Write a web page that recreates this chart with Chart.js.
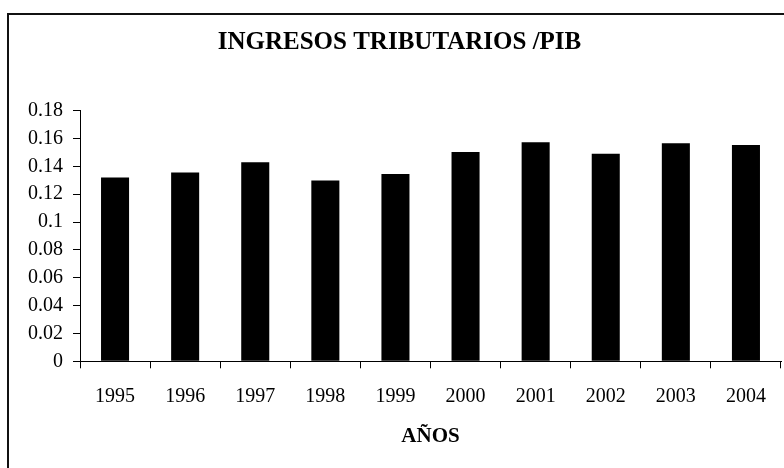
<!DOCTYPE html>
<html>
<head>
<meta charset="utf-8">
<script src="https://cdn.jsdelivr.net/npm/chart.js@4/dist/chart.umd.min.js"></script>
<style>
  html, body { margin: 0; padding: 0; background: #fff; }
  #wrap { width: 784px; height: 468px; position: relative; }
</style>
</head>
<body>
<div id="wrap"><canvas id="c" width="784" height="468"></canvas></div>
<script>
const categories = ['1995','1996','1997','1998','1999','2000','2001','2002','2003','2004'];
const ratioValues = [0.132, 0.1357, 0.143, 0.1298, 0.1346, 0.1503, 0.1574, 0.1491, 0.1567, 0.1553];
const yTicks = [0, 0.02, 0.04, 0.06, 0.08, 0.1, 0.12, 0.14, 0.16, 0.18];
const chartTitle = 'INGRESOS TRIBUTARIOS /PIB';
const xTitle = 'AÑOS';

Chart.defaults.font.family = "'Liberation Serif', 'Times New Roman', serif";
Chart.defaults.color = '#000';

const framePlugin = {
  id: 'frame',
  beforeDraw(chart) {
    const ctx = chart.ctx;
    ctx.save();
    ctx.fillStyle = '#fff';
    ctx.fillRect(0, 0, chart.width, chart.height);
    ctx.strokeStyle = '#111';
    ctx.lineWidth = 2;
    ctx.strokeRect(8, 14, 900, 600);
    ctx.restore();
  }
};

new Chart(document.getElementById('c'), {
  type: 'bar',
  data: {
    labels: categories,
    datasets: [{
      data: ratioValues,
      backgroundColor: '#000',
      borderWidth: 0,
      barPercentage: 0.4,
      categoryPercentage: 1.0
    }]
  },
  options: {
    responsive: false,
    animation: false,
    layout: { padding: { left: 18, right: 3, top: 0, bottom: 14.5 } },
    plugins: {
      legend: { display: false },
      tooltip: { enabled: false },
      title: {
        display: true,
        text: chartTitle,
        color: '#000',
        font: { size: 25, weight: 'bold' },
        padding: { top: 28, bottom: 52.7 }
      }
    },
    scales: {
      x: {
        grid: { display: true, drawOnChartArea: false, drawTicks: true, tickLength: 7, color: '#000', offset: true },
        border: { display: true, color: '#000', width: 1 },
        ticks: { padding: 16, font: { size: 20 }, color: '#000', maxRotation: 0, autoSkip: false },
        title: { display: true, text: xTitle, color: '#000', font: { size: 21, weight: 'bold' }, padding: { top: 0, bottom: 4 } }
      },
      y: {
        min: 0,
        max: 0.18,
        afterBuildTicks(scale) { scale.ticks = yTicks.map(v => ({ value: v })); },
        grid: { display: true, drawOnChartArea: false, drawTicks: true, tickLength: 7, color: '#000' },
        border: { display: true, color: '#000', width: 1 },
        ticks: {
          padding: 10,
          autoSkip: false,
          font: { size: 20 },
          color: '#000',
          callback: v => String(+Number(v).toFixed(2))
        }
      }
    }
  },
  plugins: [framePlugin]
});
</script>
</body>
</html>
